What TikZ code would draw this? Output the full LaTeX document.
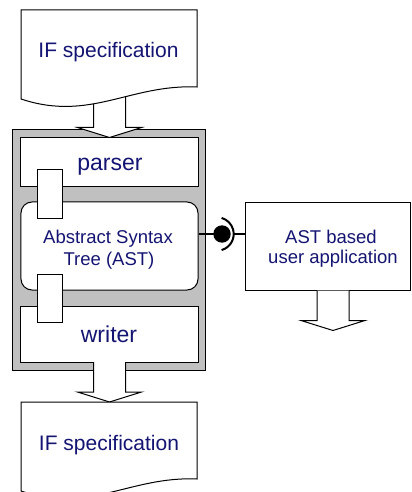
\documentclass[tikz,border=0pt]{standalone}
\usepackage{fontspec}
\setmainfont{Liberation Sans}
\usetikzlibrary{calc}
\definecolor{txt}{RGB}{20,20,115}
\definecolor{framegray}{RGB}{192,192,192}
\tikzset{
  box/.style={draw=black, fill=white, line width=1bp, inner sep=0pt,
              minimum width=177bp},
  port/.style={draw=black, fill=white, line width=1bp, inner sep=0pt,
               minimum width=25bp, minimum height=48bp},
  doc/.style={draw=black, fill=white, line width=1bp},
  blockarrow/.style={draw=black, fill=white, line width=1bp, line join=miter},
  bigtxt/.style={text=txt, anchor=base, inner sep=0pt, font=\fontsize{21bp}{25bp}\selectfont},
  midtxt/.style={text=txt, anchor=base, inner sep=0pt, font=\fontsize{23bp}{27bp}\selectfont},
  smalltxt/.style={text=txt, anchor=base, inner sep=0pt, font=\fontsize{18.5bp}{22bp}\selectfont},
}
% block arrow pointing down: #1 tip, #2 overall length
\newcommand{\fatarrow}[2]{%
  \draw[blockarrow] ($(#1)+(-16,-#2)$) -- ($(#1)+(-16,-10)$) -- ($(#1)+(-32,-10)$)
    -- (#1) -- ($(#1)+(32,-10)$) -- ($(#1)+(16,-10)$) -- ($(#1)+(16,-#2)$);}

\begin{document}
\begin{tikzpicture}[x=1bp,y=-1bp]
\useasboundingbox (0,0) rectangle (411,492);
\clip (0,0) rectangle (411,492);

% grey container
\node[draw=black, fill=framegray, line width=1bp, inner sep=0pt,
      minimum width=192bp, minimum height=240bp] (frame) at (109,250) {};

% inner parts
\node[box, minimum height=48bp] (parser) at (109.5,162) {};
\node[box, minimum height=88bp, rounded corners=11bp] (ast) at (109.5,246) {};
\node[box, minimum height=56bp] (writer) at (109.5,334) {};

% input arrow into the parser
\fatarrow{parser.north}{43}

% input document
\draw[doc] (21,10) -- (197,10) -- (197,87)
  .. controls (130,84) and (90,122) .. (21,99) -- cycle;
\node[bigtxt] (spec1) at (108.5,57.3) {IF specification};

% ports between the parts
\node[port] (portA) at (49.5,194) {};
\node[port] (portB) at (49.5,298) {};

% labels
\node[midtxt] (parserlbl) at (110,170.7) {parser};
\node[smalltxt] (astA) at (108,243.3) {Abstract Syntax};
\node[smalltxt] (astB) at (109,265.3) {Tree (AST)};
\node[midtxt] (writerlbl) at (109,342.7) {writer};

% output document
\coordinate (doc2top) at (109.5,402);
\fatarrow{doc2top}{40}
\draw[doc] (21,402) -- (197,402) -- (197,479)
  .. controls (130,476) and (90,514) .. (21,491) -- cycle;
\node[bigtxt] (spec2) at (109,450) {IF specification};

% user application
\node[draw=black, fill=white, line width=1bp, inner sep=0pt,
      minimum width=165bp, minimum height=87bp] (app) at (327.5,246.5) {};
\node[smalltxt] (appA) at (331,243.3) {AST based};
\node[smalltxt] (appB) at (333,263.8) {user application};
\coordinate (apptip) at ($(app.south)+(5.5,40)$);
\fatarrow{apptip}{40}

% provided / required interface
\coordinate (sock) at (222,234);
\draw[line width=1.3bp] (ast.east |- sock) -- (sock);
\fill (sock) circle (8.7);
\draw[line width=2bp] ($(sock)+(-5,0)+(74:16.7)$) arc[start angle=74, end angle=-74, radius=16.7];
\draw[line width=1.3bp] ($(sock)+(11.7,0)$) -- (app.west |- sock);
\end{tikzpicture}
\end{document}
